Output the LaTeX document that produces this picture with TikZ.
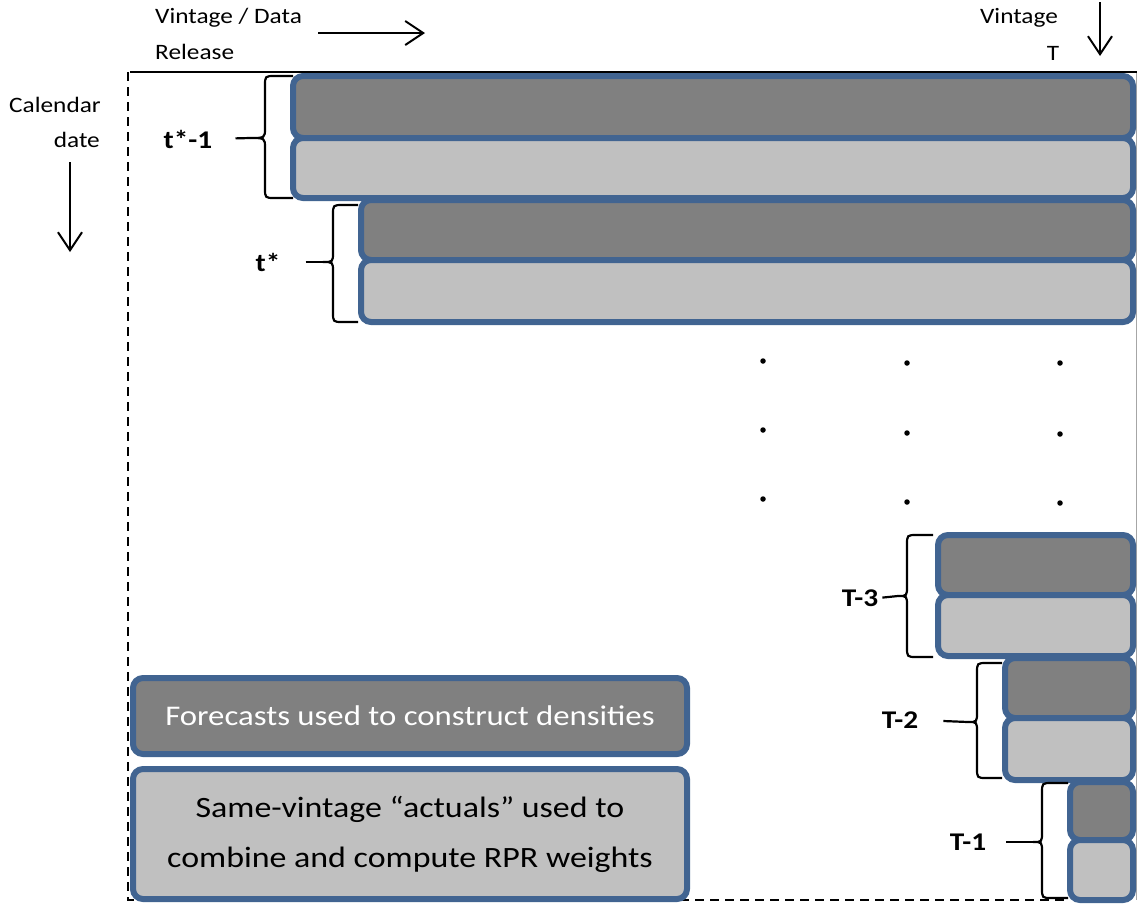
\documentclass[tikz,border=0pt]{standalone}
\usepackage{fontspec}
\setmainfont{Carlito}[FakeStretch=1.15]
\usetikzlibrary{arrows.meta}
\definecolor{bordc}{RGB}{65,100,145}
\definecolor{darkf}{RGB}{128,128,128}
\definecolor{lightf}{RGB}{192,192,192}
\newcommand\cellat[7]{\node[#2, minimum width={#5-#3-6}, minimum height={#6-#4-6}] (#1) at ({(#3+#5)/2},{(#4+#6)/2}) {#7};}
\newcommand\bracedraw[6]{\draw[brc] (#1,#3) -- ({#2+10},#3) .. controls (#2,#3) .. (#2,{#3+10}) -- (#2,{#5-10}) .. controls (#2,#5) .. (#6,#5) .. controls (#2,#5) .. (#2,{#5+10}) -- (#2,{#4-10}) .. controls (#2,#4) .. ({#2+10},#4) -- (#1,#4);}
\begin{document}
\begin{tikzpicture}[x=1pt,y=-1pt,
  cell/.style={draw=bordc, line width=6pt, rounded corners=10pt, inner sep=0pt},
  dk/.style={cell, fill=darkf},
  lt/.style={cell, fill=lightf},
  brc/.style={line width=2.2pt, black},
  lbl/.style={font=\fontsize{25.5}{30}\selectfont\bfseries, inner sep=0pt},
  hdr/.style={font=\fontsize{22}{26}\selectfont, inner sep=0pt},
  legtxt/.style={font=\fontsize{29.5}{50}\selectfont, align=center},
  framedash/.style={line width=2pt, dash pattern=on 9pt off 6pt},
  arr/.style={line width=2pt, -{Straight Barb[length=18pt,width=24pt,line width=2pt]}},
  dotm/.style={circle, fill=black, inner sep=0pt, minimum size=5.5pt}]
\useasboundingbox (0,0) rectangle (1137,906);
% frame
\draw[gray!70, line width=0.8pt] (1136.5,72) -- (1136.5,900);
\draw[line width=2pt] (130,72) -- (1137,72);
\draw[framedash] (128,72) -- (128,900) -- (1068,900);
% header
\node[hdr, anchor=west] (vd) at (155,18) {Vintage / Data};
\node[hdr, anchor=west] (rel) at (155,52) {Release};
\coordinate (ha1) at (318,33);
\coordinate (ha2) at (425,33);
\draw[arr] (ha1) -- (ha2);
\node[hdr] (vint) at (1019,18) {Vintage};
\node[hdr] (vT) at (1053,53) {T};
\coordinate (va1) at (1100,2);
\coordinate (va2) at (1100,56);
\draw[arr] (va1) -- (va2);
\node[hdr] (cal) at (55,105) {Calendar};
\node[hdr, anchor=east] (date) at (100,140) {date};
\coordinate (ca1) at (70,162);
\coordinate (ca2) at (70,252);
\draw[arr] (ca1) -- (ca2);
% boxes
\cellat{a1}{dk}{290}{73}{1136}{141}{}
\cellat{a2}{lt}{290}{135}{1136}{201}{}
\cellat{b1}{dk}{358}{197}{1136}{263}{}
\cellat{b2}{lt}{358}{257}{1136}{325}{}
\cellat{c1}{dk}{935}{532}{1136}{598}{}
\cellat{c2}{lt}{935}{592}{1136}{659}{}
\cellat{d1}{dk}{1002}{655}{1136}{721}{}
\cellat{d2}{lt}{1002}{715}{1136}{783}{}
\cellat{e1}{dk}{1067}{779}{1136}{843}{}
\cellat{e2}{lt}{1067}{837}{1136}{903}{}
% legend
\cellat{lg1}{dk, legtxt, text=white, font=\fontsize{28.5}{34}\selectfont}{130}{675}{690}{757}{Forecasts used to construct densities}
\cellat{lg2}{lt, legtxt}{130}{766}{690}{902}{Same-vintage “actuals” used to\\combine and compute RPR weights}
% braces
\bracedraw{293}{265}{76}{198}{138}{250}
\coordinate (tA) at (250,138);
\node[lbl] (lA) at (188,139) {t*-1};
\draw[brc, shorten <=23pt] (lA.east) -- (tA);
\bracedraw{358}{333}{205}{322}{262}{323}
\coordinate (tB) at (323,262);
\node[lbl] (lB) at (268,262) {t*};
\draw[brc, shorten <=25pt] (lB.east) -- (tB);
\bracedraw{933}{907}{535}{657}{596}{898}
\coordinate (tC) at (898,596);
\node[lbl] (lC) at (860,598) {T-3};
\draw[brc, shorten <=4pt] (lC.east) -- (tC);
\bracedraw{1002}{977}{663}{778}{722}{968}
\coordinate (tD) at (968,722);
\node[lbl] (lD) at (900,720) {T-2};
\draw[brc, shorten <=25pt] (lD.east) -- (tD);
\bracedraw{1068}{1042}{783}{898}{842}{1033}
\coordinate (tE) at (1033,842);
\node[lbl] (lE) at (968,842) {T-1};
\draw[brc, shorten <=20pt] (lE.east) -- (tE);
% dots
\node[dotm] (p11) at (763,361) {};
\node[dotm] (p12) at (907,363) {};
\node[dotm] (p13) at (1060,363) {};
\node[dotm] (p21) at (763,430) {};
\node[dotm] (p22) at (907,433) {};
\node[dotm] (p23) at (1060,434) {};
\node[dotm] (p31) at (763,499) {};
\node[dotm] (p32) at (907,502) {};
\node[dotm] (p33) at (1060,503) {};
\end{tikzpicture}
\end{document}
